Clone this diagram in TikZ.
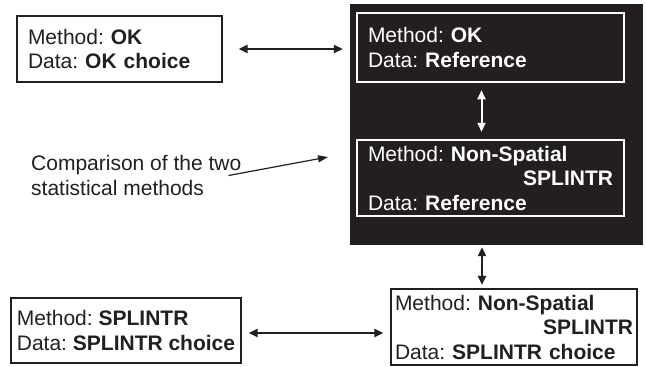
\documentclass[tikz,border=0pt]{standalone}
\usepackage{fontspec}
\setmainfont{Liberation Sans}
\usetikzlibrary{arrows.meta}
\definecolor{boxblack}{RGB}{35,31,32}
\frenchspacing

\begin{document}
\begin{tikzpicture}[x = 1pt, y = -1pt]
\tikzstyle{every node} = [font = \fontsize{21}{24.5}\selectfont, text = boxblack]
\tikzstyle{outbox} = [draw = boxblack, line width = 1.2pt, rectangle, align = left, inner xsep = 11pt, inner ysep = 0pt]
\tikzstyle{inbox} = [outbox, draw = white, line width = 2.5pt, text = white]
\tikzstyle{link} = [boxblack, line width = 2pt, {Triangle[length=9pt,width=8pt]}-{Triangle[length=9pt,width=8pt]}]
\tikzstyle{pointer} = [boxblack, line width = 1.2pt, -{Triangle[length=10pt,width=7pt]}]

\useasboundingbox (0,0) rectangle (646,367);

% black panel with the two reference runs
\node (panel) [fill = boxblack, minimum width = 293pt, minimum height = 241pt, inner sep = 0pt] at (496.5,124.5) {};
\node (okref) [inbox, minimum width = 267pt, minimum height = 69pt, text width = 245pt] at (490.5,47.5)
	{Method: \textbf{OK}\\Data: \textbf{Reference}};
\node (nsref) [inbox, minimum width = 267pt, minimum height = 76pt, text width = 245pt] at (490.5,178)
	{Method: \textbf{Non-Spatial}\\\hspace*{\fill}\textbf{SPLINTR}\\Data: \textbf{Reference}};

% runs on the chosen data
\node (okchoice) [outbox, minimum width = 205pt, minimum height = 66pt, text width = 183pt] at (119.5,49)
	{Method: \textbf{OK}\\Data: \textbf{OK choice}};
\node (splchoice) [outbox, inner xsep = 5pt, minimum width = 230pt, minimum height = 65pt] at (126,330.5)
	{Method: \textbf{SPLINTR}\\Data: \textbf{SPLINTR choice}};
\node (nschoice) [outbox, inner xsep = 4pt, minimum width = 246pt, minimum height = 76pt, text width = 238pt] at (514,327)
	{Method: \textbf{Non-Spatial}\\\hspace*{\fill}\textbf{SPLINTR}\\Data: \textbf{SPLINTR choice}};

\node (cmp) [anchor = west, align = left, inner sep = 0pt] at (31,175.5)
	{Comparison of the two\\statistical methods};
\coordinate (cmptip) at (328,157);

% arrows
\draw [link, shorten < = 16pt, shorten > = 7pt] (okchoice.east) -- (okchoice.east -| panel.west);
\draw [link, white, shorten < = 7pt, shorten > = 7pt] ([xshift=-9pt]okref.south) -- ([xshift=-9pt]nsref.north);
\draw [link, shorten < = 2pt, shorten > = 3.5pt] ([xshift=-14.5pt]panel.south) -- ([xshift=-14.5pt]panel.south |- nschoice.north);
\draw [link, shorten < = 7pt, shorten > = 7pt] ([yshift=-2.5pt]splchoice.east) -- ([yshift=-2.5pt]splchoice.east -| nschoice.west);
\draw [pointer] ([xshift=-13pt]cmp.east) -- (cmptip);
\end{tikzpicture}
\end{document}
